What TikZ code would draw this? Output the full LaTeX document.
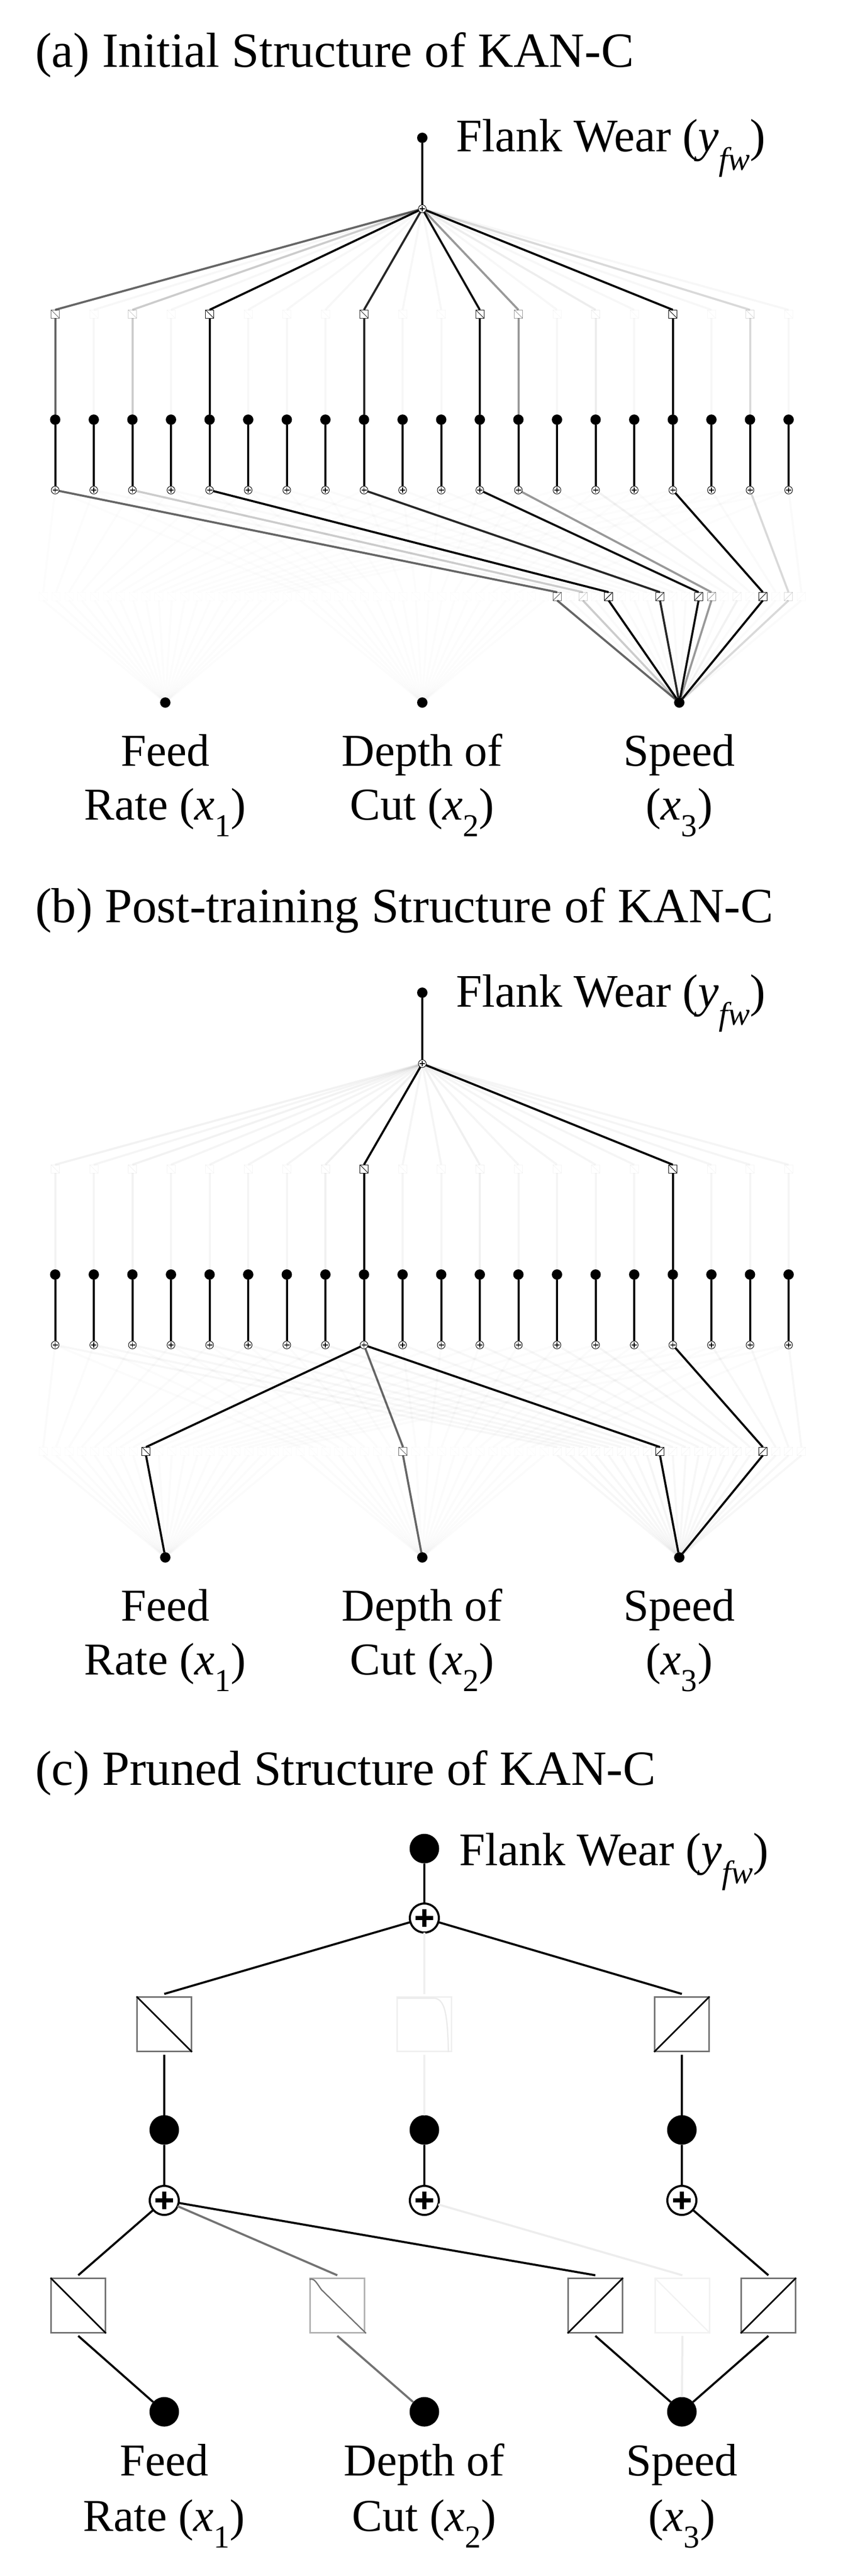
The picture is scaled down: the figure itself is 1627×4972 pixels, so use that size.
\documentclass[tikz,border=0pt]{standalone}
\usepackage{fontspec}
\setmainfont{Liberation Serif}
\begin{document}
\begin{tikzpicture}[x=1pt,y=-1pt,
  every node/.style={inner sep=0pt,outer sep=0pt},
  ln/.style={line width=4pt},
  dot/.style={circle,fill=black,minimum size=20pt},
  bigdot/.style={circle,fill=black,minimum size=57pt},
  psum/.style={circle,draw=black,fill=white,line width=1pt,minimum size=15pt,
    path picture={\draw[line width=1.2pt]([xshift=-5pt]path picture bounding box.center)--([xshift=5pt]path picture bounding box.center);
                  \draw[line width=1.2pt]([yshift=-5pt]path picture bounding box.center)--([yshift=5pt]path picture bounding box.center);}},
  bsum/.style={circle,draw=black,fill=white,line width=4pt,minimum size=56pt,
    path picture={\draw[line width=8pt]([xshift=-17pt]path picture bounding box.center)--([xshift=17pt]path picture bounding box.center);
                  \draw[line width=8pt]([yshift=-17pt]path picture bounding box.center)--([yshift=17pt]path picture bounding box.center);}},
  sbox/.style={rectangle,draw=black,fill=white,line width=1pt,minimum size=16pt},
  bbox/.style={rectangle,draw=black!55,line width=2.5pt,minimum size=105pt,outer sep=6pt},
  ttl/.style={anchor=base west,font=\fontsize{95}{110}\selectfont},
  lbl/.style={anchor=base,font=\fontsize{88}{100}\selectfont},
  flk/.style={anchor=base west,font=\fontsize{90}{100}\selectfont}]
\useasboundingbox (0,0) rectangle (1627,4972);

% ---------- panels a and b ----------
\newcommand\kanab[3]{%
  \node[dot] (#1-out) at (815,{266+#2}) {};
  \node[psum] (#1-sum) at (815,{403+#2}) {};
  \node[dot] (#1-in1) at (319,{1356+#2}) {};
  \node[dot] (#1-in2) at (815,{1356+#2}) {};
  \node[dot] (#1-in3) at (1311,{1356+#2}) {};
  \draw[ln] (#1-out) -- (#1-sum);
  \foreach \j/\u/\f/\d/\s in {#3}{
    \pgfmathsetmacro\hx{106.5+74.5*\j}
    \node[dot] (#1-hd\j) at (\hx,{810+#2}) {};
    \node[psum] (#1-hs\j) at (\hx,{946+#2}) {};
    \draw[ln] (#1-hd\j) -- (#1-hs\j);
    \node[sbox,draw opacity=\u] (#1-ub\j) at (\hx,{606+#2}) {};
    \draw[line width=1pt,draw opacity=\u] (#1-ub\j.north west) -- (#1-ub\j.south east);
    \draw[ln,draw opacity=\u] (#1-sum) -- (#1-ub\j.north);
    \draw[ln,draw opacity=\u] (#1-ub\j.south) -- (#1-hd\j);
    \node[sbox,draw opacity=\f] (#1-lf\j) at ({319+(\j-9.5)*24.8},{1151+#2}) {};
    \node[sbox,draw opacity=\d] (#1-ld\j) at ({815+(\j-9.5)*24.8},{1151+#2}) {};
    \node[sbox,draw opacity=\s] (#1-ls\j) at ({1311+(\j-9.5)*24.8},{1151+#2}) {};
    \draw[line width=1pt,draw opacity=\f] (#1-lf\j.north west) -- (#1-lf\j.south east);
    \draw[line width=1pt,draw opacity=\d] (#1-ld\j.north west) -- (#1-ld\j.south east);
    \draw[line width=1pt,draw opacity=\s] (#1-ls\j.south west) -- (#1-ls\j.north east);
    \draw[ln,draw opacity=\f] (#1-hs\j) -- (#1-lf\j.north) (#1-lf\j.south) -- (#1-in1);
    \draw[ln,draw opacity=\d] (#1-hs\j) -- (#1-ld\j.north) (#1-ld\j.south) -- (#1-in2);
    \draw[ln,draw opacity=\s] (#1-hs\j) -- (#1-ls\j.north) (#1-ls\j.south) -- (#1-in3);
  }
  \node[flk] (#1-flank) at (880,{293+#2}) {Flank Wear (\textit{y}\textsubscript{\textit{fw}})};
  \node[lbl] (#1-l1a) at (319,{1478+#2}) {Feed};
  \node[lbl] (#1-l1b) at (319,{1582+#2}) {Rate (\textit{x}\textsubscript{1})};
  \node[lbl] (#1-l2a) at (815,{1478+#2}) {Depth of};
  \node[lbl] (#1-l2b) at (815,{1582+#2}) {Cut (\textit{x}\textsubscript{2})};
  \node[lbl] (#1-l3a) at (1311,{1478+#2}) {Speed};
  \node[lbl] (#1-l3b) at (1311,{1582+#2}) {(\textit{x}\textsubscript{3})};
}

\node[ttl] (ta) at (68,130) {(a) Initial Structure of KAN-C};
\kanab{a}{0}{0/.6/.012/.012/.6, 1/.03/.01/.01/.02, 2/.2/.01/.01/.2, 3/.03/.01/.01/.02,
  4/1/.01/.01/1, 5/.03/.01/.01/.02, 6/.03/.01/.01/.02, 7/.03/.01/.01/.02,
  8/.85/.012/.012/.85, 9/.03/.01/.01/.02, 10/.03/.01/.01/.02, 11/.95/.01/.01/.95,
  12/.4/.01/.01/.4, 13/.03/.01/.01/.02, 14/.07/.01/.01/.05, 15/.03/.01/.01/.02,
  16/1/.01/.01/1, 17/.03/.01/.01/.02, 18/.15/.01/.01/.15, 19/.03/.01/.01/.02}

\node[ttl] (tb) at (68,1780) {(b) Post-training Structure of KAN-C};
\kanab{b}{1650}{0/.05/.02/.015/.03, 1/.04/.015/.015/.03, 2/.05/.015/.015/.03, 3/.04/.015/.015/.03,
  4/.04/.015/.015/.03, 5/.04/.015/.015/.03, 6/.04/.015/.015/.03, 7/.06/.015/.015/.04,
  8/1/1/.6/1, 9/.04/.015/.015/.03, 10/.04/.015/.015/.03, 11/.06/.015/.015/.03,
  12/.04/.015/.015/.03, 13/.04/.015/.015/.03, 14/.04/.015/.015/.04, 15/.04/.015/.015/.03,
  16/1/.015/.015/1, 17/.04/.015/.015/.03, 18/.04/.015/.015/.03, 19/.04/.015/.015/.03}

% ---------- panel c ----------
\node[ttl] (tc) at (68,3445) {(c) Pruned Structure of KAN-C};
\node[bigdot] (c-out) at (819,3568) {};
\node[flk] (c-flank) at (886,3600) {Flank Wear (\textit{y}\textsubscript{\textit{fw}})};
\node[bsum] (c-sum) at (819,3702) {};
\node[bbox] (c-ub1) at (317,3907) {};
\node[bbox,draw=black!6] (c-ub2) at (819,3907) {};
\node[bbox] (c-ub3) at (1316,3907) {};
\foreach \i/\x in {1/317,2/819,3/1316}{
  \node[bigdot] (c-hd\i) at (\x,4111) {};
  \node[bsum] (c-hs\i) at (\x,4247) {};
  \node[bigdot] (c-in\i) at (\x,4655) {};
  \draw[ln] (c-hd\i) -- (c-hs\i);
}
\node[bbox] (c-lb1) at (151,4450) {};
\node[bbox,draw=black!30] (c-lb2) at (651,4450) {};
\node[bbox] (c-lb3) at (1149,4450) {};
\node[bbox,draw=black!5] (c-lb4) at (1317,4450) {};
\node[bbox] (c-lb5) at (1483,4450) {};
% box contents
\draw[line width=3pt] ([shift={(5pt,-5pt)}]c-ub1.north west) -- ([shift={(-5pt,5pt)}]c-ub1.south east);
\draw[line width=3pt] ([shift={(5pt,5pt)}]c-ub3.south west) -- ([shift={(-5pt,-5pt)}]c-ub3.north east);
\draw[line width=2.5pt,black!8] ([shift={(6pt,-8pt)}]c-ub2.north west) -- ([shift={(-40pt,-8pt)}]c-ub2.north east)
   .. controls ([shift={(-18pt,-10pt)}]c-ub2.north east) and ([shift={(-14pt,-40pt)}]c-ub2.north east) .. ([shift={(-12pt,5pt)}]c-ub2.south east);
\draw[line width=3pt] ([shift={(5pt,-5pt)}]c-lb1.north west) -- ([shift={(-5pt,5pt)}]c-lb1.south east);
\draw[line width=2.5pt,black!55] ([shift={(5pt,-8pt)}]c-lb2.north west) .. controls ([shift={(14pt,-5pt)}]c-lb2.north west) and ([shift={(18pt,-14pt)}]c-lb2.north west) .. ([shift={(28pt,-28pt)}]c-lb2.north west) -- ([shift={(-3pt,5pt)}]c-lb2.south east);
\draw[line width=3pt] ([shift={(5pt,5pt)}]c-lb3.south west) -- ([shift={(-5pt,-5pt)}]c-lb3.north east);
\draw[line width=2.5pt,black!5] ([shift={(5pt,-5pt)}]c-lb4.north west) -- ([shift={(-5pt,5pt)}]c-lb4.south east);
\draw[line width=3pt] ([shift={(5pt,5pt)}]c-lb5.south west) -- ([shift={(-5pt,-5pt)}]c-lb5.north east);
% edges
\draw[ln] (c-out) -- (c-sum);
\draw[ln] (c-sum) -- (c-ub1.north);
\draw[ln,black!6] (c-sum) -- (c-ub2.north);
\draw[ln] (c-sum) -- (c-ub3.north);
\draw[ln] (c-ub1.south) -- (c-hd1);
\draw[ln,black!6] (c-ub2.south) -- (c-hd2);
\draw[ln] (c-ub3.south) -- (c-hd3);
\draw[ln] (c-hs1) -- (c-lb1.north);
\draw[ln,black!55] (c-hs1) -- (c-lb2.north);
\draw[ln] (c-hs1) -- (c-lb3.north);
\draw[ln,black!7] (c-hs2) -- (c-lb4.north);
\draw[ln] (c-hs3) -- (c-lb5.north);
\draw[ln] (c-lb1.south) -- (c-in1);
\draw[ln,black!55] (c-lb2.south) -- (c-in2);
\draw[ln] (c-lb3.south) -- (c-in3);
\draw[ln,black!7] (c-lb4.south) -- (c-in3);
\draw[ln] (c-lb5.south) -- (c-in3);
\node[lbl] (c-l1a) at (317,4778) {Feed};
\node[lbl] (c-l1b) at (317,4885) {Rate (\textit{x}\textsubscript{1})};
\node[lbl] (c-l2a) at (819,4778) {Depth of};
\node[lbl] (c-l2b) at (819,4885) {Cut (\textit{x}\textsubscript{2})};
\node[lbl] (c-l3a) at (1316,4778) {Speed};
\node[lbl] (c-l3b) at (1316,4885) {(\textit{x}\textsubscript{3})};
\end{tikzpicture}
\end{document}
